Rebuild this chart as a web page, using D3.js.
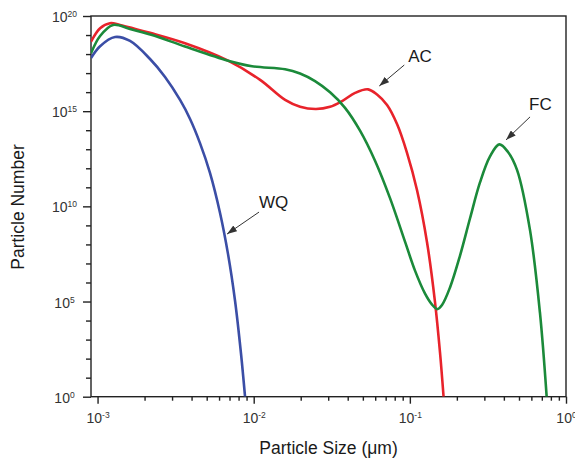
<!DOCTYPE html>
<html>
<head>
<meta charset="utf-8">
<script src="https://cdn.jsdelivr.net/npm/d3@7"></script>
<style>
body { margin: 0; background: #fff; }
svg { font-family: "Liberation Sans", Arial, sans-serif; }
</style>
</head>
<body>
<div class="chart"></div>
<script>
// particle size in um, particle number
const wqSize = [0.000908, 0.001038, 0.001294, 0.001614, 0.002168, 0.002705, 0.003376, 0.003912, 0.004529, 0.005253, 0.006087, 0.006848, 0.007593, 0.008297, 0.008801];
const wqNumber = [6.2e17, 2.6e18, 7.9e18, 4.9e18, 5.5e17, 6.3e16, 3.9e15, 3.9e14, 2.1e13, 5.6e11, 4.5e9, 3.1e7, 1.1e5, 175, 1];

const acSize = [0.000908, 0.001038, 0.001202, 0.001393, 0.002168, 0.003631, 0.006855, 0.01099, 0.01589, 0.01982, 0.02506, 0.03083, 0.03681, 0.04457, 0.05395, 0.06163, 0.07145, 0.08277, 0.0959, 0.1111, 0.1288, 0.1449, 0.156, 0.1644];
const acNumber = [4.5e18, 2.3e19, 4.2e19, 3.4e19, 1.3e19, 3.7e18, 4.5e17, 4.4e16, 3.9e15, 1.7e15, 1.3e15, 1.7e15, 3.4e15, 9.1e15, 1.4e16, 7.5e15, 2.1e15, 2.1e14, 6.5e12, 7.2e10, 1.3e8, 9.4e4, 210, 1];

const fcSize = [0.000908, 0.001038, 0.001256, 0.001614, 0.002234, 0.003631, 0.006855, 0.009756, 0.01589, 0.0198, 0.0247, 0.03083, 0.03845, 0.04797, 0.05983, 0.07464, 0.09311, 0.1079, 0.1251, 0.1387, 0.1499, 0.1607, 0.1808, 0.2096, 0.2427, 0.2813, 0.3261, 0.3739, 0.4251, 0.4856, 0.5878, 0.6813, 0.7518];
const fcNumber = [1.1e18, 8.9e18, 3.4e19, 2.1e19, 1.0e19, 2.5e18, 4.5e17, 2.3e17, 1.6e17, 9.5e16, 3.8e16, 9.8e15, 1.5e15, 9.5e13, 2.5e12, 2.7e10, 1.4e8, 4.2e6, 2.6e5, 6.9e4, 4.0e4, 6.6e4, 5.5e5, 2.6e7, 2.3e9, 1.8e11, 4.2e12, 1.8e13, 7.2e12, 8.3e11, 5.8e8, 2.5e4, 1];

const yMajorTicks = [1, 1e5, 1e10, 1e15, 1e20];
const xMajorTicks = [1e-3, 1e-2, 1e-1, 1];

const annotLabels = ["AC", "FC", "WQ"];
const annotSize = [0.0637, 0.413, 0.006748];
const annotNumber = [2.1e16, 3.1e13, 3.5e8];

const series = [
    { size: wqSize, number: wqNumber, color: "#3b4ea6" },
    { size: acSize, number: acNumber, color: "#e8232b" },
    { size: fcSize, number: fcNumber, color: "#1b8a3a" }
];
// arrow start and text offsets from the arrow tip
const annotOffsets = [
    { lx: 25, ly: -21, tx: 29, ty: -24 },
    { lx: 24, ly: -23, tx: 23, ty: -30 },
    { lx: 32, ly: -22, tx: 32, ty: -26 }
];

const width = 575, height = 460;
const margin = { top: 16, right: 9, bottom: 63.3, left: 91 };

const svg = d3.select(".chart").append("svg")
    .attr("width", width)
    .attr("height", height);

const x = d3.scaleLog()
    .domain([Math.pow(10, -3.042), 1])
    .range([margin.left, width - margin.right]);

const y = d3.scaleLog()
    .domain([1, 1e20])
    .range([height - margin.bottom, margin.top]);

const axisColor = "#222";

svg.append("defs").append("clipPath")
    .attr("id", "plot-clip")
    .append("rect")
    .attr("x", margin.left)
    .attr("y", margin.top)
    .attr("width", width - margin.left - margin.right)
    .attr("height", height - margin.top - margin.bottom);

svg.select("defs").append("marker")
    .attr("id", "arrow")
    .attr("markerUnits", "userSpaceOnUse")
    .attr("viewBox", "0 0 10 7")
    .attr("refX", 10)
    .attr("refY", 3.5)
    .attr("markerWidth", 10)
    .attr("markerHeight", 7)
    .attr("orient", "auto")
    .append("path")
    .attr("d", "M0,0L10,3.5L0,7Z")
    .attr("fill", "#333");

// minor ticks
const yMinor = d3.range(1, 20).filter(e => e % 5 !== 0).map(e => Math.pow(10, e));
const xMinor = [];
[-3, -2, -1].forEach(e => d3.range(2, 10).forEach(k => xMinor.push(k * Math.pow(10, e))));

svg.append("g")
    .attr("transform", `translate(${margin.left},0)`)
    .call(d3.axisLeft(y).tickValues(yMinor).tickSize(5).tickFormat(""))
    .call(g => g.select(".domain").remove());

svg.append("g")
    .attr("transform", `translate(0,${height - margin.bottom})`)
    .call(d3.axisBottom(x).tickValues(xMinor).tickSize(4).tickFormat(""))
    .call(g => g.select(".domain").remove());

function powerLabel(d) {
    const t = d3.select(this).text(null);
    t.append("tspan").text("10");
    t.append("tspan")
        .attr("dy", "-0.6em")
        .attr("font-size", 8.5)
        .text(Math.round(Math.log10(d)));
}

svg.append("g")
    .attr("transform", `translate(${margin.left},0)`)
    .call(d3.axisLeft(y).tickValues(yMajorTicks).tickSize(8))
    .call(g => g.select(".domain").remove())
    .call(g => g.selectAll("text")
        .attr("x", -26.5)
        .attr("dy", "0.4em")
        .attr("text-anchor", "middle")
        .attr("font-size", 14)
        .each(powerLabel));

svg.append("g")
    .attr("transform", `translate(0,${height - margin.bottom})`)
    .call(d3.axisBottom(x).tickValues(xMajorTicks).tickSize(7))
    .call(g => g.select(".domain").remove())
    .call(g => g.selectAll("text")
        .attr("y", 16.5)
        .attr("font-size", 14)
        .each(powerLabel));

svg.selectAll(".tick line").attr("stroke", axisColor).attr("stroke-width", 1.4);
svg.selectAll(".tick text").attr("fill", "#333").attr("font-family", null);

// frame
svg.append("rect")
    .attr("x", margin.left)
    .attr("y", margin.top)
    .attr("width", width - margin.left - margin.right)
    .attr("height", height - margin.top - margin.bottom)
    .attr("fill", "none")
    .attr("stroke", axisColor)
    .attr("stroke-width", 1.4);

const line = d3.line()
    .x(d => x(d[0]))
    .y(d => y(d[1]))
    .curve(d3.curveCatmullRom.alpha(0.5));

svg.append("g")
    .attr("clip-path", "url(#plot-clip)")
    .selectAll("path")
    .data(series)
    .enter()
    .append("path")
    .attr("d", s => line(s.size.map((v, i) => [v, s.number[i]])))
    .attr("fill", "none")
    .attr("stroke", s => s.color)
    .attr("stroke-width", 2.6)
    .attr("stroke-linejoin", "round");

// annotations
const annots = svg.append("g")
    .selectAll("g")
    .data(annotLabels)
    .enter()
    .append("g");

annots.append("line")
    .attr("x1", (d, i) => x(annotSize[i]) + annotOffsets[i].lx)
    .attr("y1", (d, i) => y(annotNumber[i]) + annotOffsets[i].ly)
    .attr("x2", (d, i) => x(annotSize[i]))
    .attr("y2", (d, i) => y(annotNumber[i]))
    .attr("stroke", "#333")
    .attr("stroke-width", 1)
    .attr("marker-end", "url(#arrow)");

annots.append("text")
    .attr("x", (d, i) => x(annotSize[i]) + annotOffsets[i].tx)
    .attr("y", (d, i) => y(annotNumber[i]) + annotOffsets[i].ty)
    .attr("font-size", 17)
    .attr("fill", "#1a1a1a")
    .text(d => d);

// axis titles
svg.append("text")
    .attr("x", (margin.left + width - margin.right) / 2)
    .attr("y", 454)
    .attr("text-anchor", "middle")
    .attr("font-size", 17.5)
    .attr("fill", "#1a1a1a")
    .text("Particle Size (\u03bcm)");

svg.append("text")
    .attr("transform", "translate(24,207) rotate(-90)")
    .attr("text-anchor", "middle")
    .attr("font-size", 17.5)
    .attr("fill", "#1a1a1a")
    .text("Particle Number");
</script>
</body>
</html>
